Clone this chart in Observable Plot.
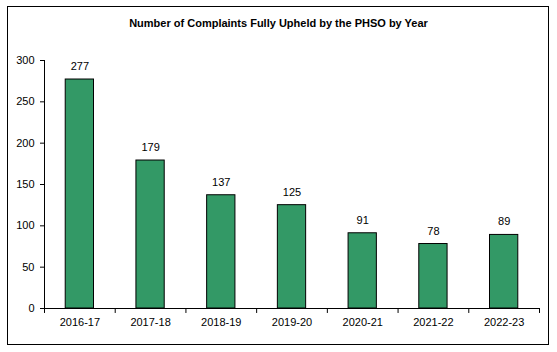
<!DOCTYPE html>
<html>
<head>
<meta charset="utf-8">
<script src="https://cdn.jsdelivr.net/npm/d3@7"></script>
<script src="https://cdn.jsdelivr.net/npm/@observablehq/plot@0.6"></script>
<style>
  html, body { margin: 0; padding: 0; background: #fff; }
  #wrap { position: relative; width: 557px; height: 352px; font-family: "Liberation Sans", Arial, sans-serif; }
  #border { position: absolute; left: 7px; top: 6px; width: 540px; height: 337px; border: 1px solid #000; pointer-events: none; }
  #title { position: absolute; left: 0; width: 557px; top: 17px; text-align: center; font-size: 11px; font-weight: bold; color: #000; }
  svg { display: block; }
</style>
</head>
<body>
<div id="wrap">
  <div id="title">Number of Complaints Fully Upheld by the PHSO by Year</div>
  <div id="border"></div>
</div>
<script>
const years = ["2016-17", "2017-18", "2018-19", "2019-20", "2020-21", "2021-22", "2022-23"];
const complaints = [277, 179, 137, 125, 91, 78, 89];
const yTicks = [0, 50, 100, 150, 200, 250, 300];

const data = years.map((y, i) => ({year: y, value: complaints[i]}));

const W = 557, H = 352;
const mL = 44, mR = 18, mT = 60, mB = 44;
const step = (W - mL - mR) / years.length;

const chart = Plot.plot({
  width: W,
  height: H,
  marginLeft: mL,
  marginRight: mR,
  marginTop: mT,
  marginBottom: mB,
  style: {fontFamily: "'Liberation Sans', Arial, sans-serif", fontSize: "11px", color: "#000", background: "transparent", overflow: "visible"},
  x: {domain: years, paddingInner: 0.6, paddingOuter: 0.3, round: false, label: null},
  y: {domain: [0, 300], label: null},
  marks: [
    Plot.axisY({ticks: yTicks, tickSize: 4, tickPadding: 6, label: null, fontSize: 11}),
    Plot.axisX({tickSize: 0, tickPadding: 10, label: null, fontSize: 11}),
    Plot.barY(data, {x: "year", y: "value", fill: "#339966", stroke: "#000", strokeWidth: 1}),
    Plot.text(data, {x: "year", y: "value", text: d => String(d.value), dy: -13, fontSize: 11, fill: "#000"}),
    Plot.frame({anchor: "left", stroke: "#000"}),
    Plot.ruleY([0], {stroke: "#000"}),
    Plot.ruleX(years, {x: d => d, dx: -step / 2, y1: 0, y2: -6, stroke: "#000", clip: false}),
    Plot.ruleX([years[years.length - 1]], {x: d => d, dx: step / 2, y1: 0, y2: -6, stroke: "#000", clip: false})
  ]
});
document.getElementById("wrap").prepend(chart);
chart.style.position = "absolute";
chart.style.left = "0";
chart.style.top = "0";
</script>
</body>
</html>
